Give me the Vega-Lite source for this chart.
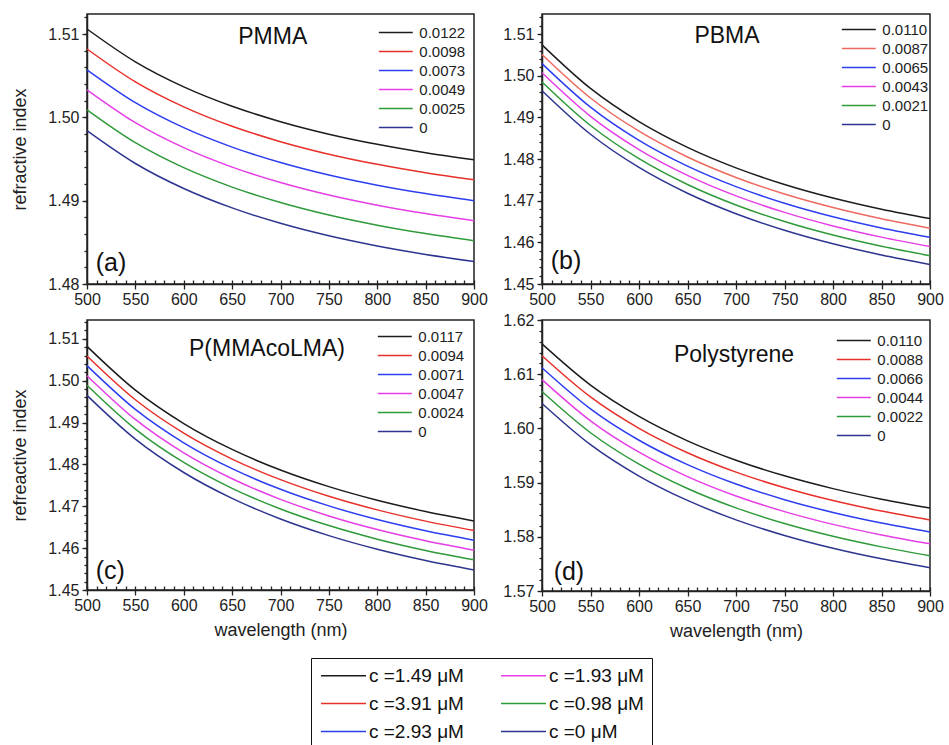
{
  "$schema": "https://vega.github.io/schema/vega-lite/v6.json",
  "padding": {"left": 11, "top": 13, "right": 0, "bottom": 0},
  "background": "white",
  "config": {
    "font": "Liberation Sans",
    "view": {"stroke": "#222", "strokeWidth": 1.5},
    "axis": {"domainColor": "#222", "domainWidth": 1.5, "tickColor": "#222", "tickWidth": 1.3, "labelColor": "#222", "labelFontSize": 16, "titleFontSize": 18, "titleFontWeight": "normal", "titleColor": "#222", "grid": false, "labelFlush": false, "labelOverlap": false},
    "legend": {"titleFontWeight": "normal"}
  },
  "datasets": {
    "a": [
      {"k":"0.0122","w":500,"n":1.5106},{"k":"0.0122","w":550,"n":1.50666},{"k":"0.0122","w":600,"n":1.50366},{"k":"0.0122","w":650,"n":1.50133},{"k":"0.0122","w":700,"n":1.49948},{"k":"0.0122","w":750,"n":1.49798},{"k":"0.0122","w":800,"n":1.49676},{"k":"0.0122","w":850,"n":1.49575},{"k":"0.0122","w":900,"n":1.4949},
      {"k":"0.0098","w":500,"n":1.5082},{"k":"0.0098","w":550,"n":1.50426},{"k":"0.0098","w":600,"n":1.50126},{"k":"0.0098","w":650,"n":1.49893},{"k":"0.0098","w":700,"n":1.49708},{"k":"0.0098","w":750,"n":1.49558},{"k":"0.0098","w":800,"n":1.49436},{"k":"0.0098","w":850,"n":1.49335},{"k":"0.0098","w":900,"n":1.4925},
      {"k":"0.0073","w":500,"n":1.5057},{"k":"0.0073","w":550,"n":1.50176},{"k":"0.0073","w":600,"n":1.49876},{"k":"0.0073","w":650,"n":1.49643},{"k":"0.0073","w":700,"n":1.49458},{"k":"0.0073","w":750,"n":1.49308},{"k":"0.0073","w":800,"n":1.49186},{"k":"0.0073","w":850,"n":1.49085},{"k":"0.0073","w":900,"n":1.49},
      {"k":"0.0049","w":500,"n":1.5033},{"k":"0.0049","w":550,"n":1.49936},{"k":"0.0049","w":600,"n":1.49636},{"k":"0.0049","w":650,"n":1.49403},{"k":"0.0049","w":700,"n":1.49218},{"k":"0.0049","w":750,"n":1.49068},{"k":"0.0049","w":800,"n":1.48946},{"k":"0.0049","w":850,"n":1.48845},{"k":"0.0049","w":900,"n":1.4876},
      {"k":"0.0025","w":500,"n":1.5009},{"k":"0.0025","w":550,"n":1.49696},{"k":"0.0025","w":600,"n":1.49396},{"k":"0.0025","w":650,"n":1.49163},{"k":"0.0025","w":700,"n":1.48978},{"k":"0.0025","w":750,"n":1.48828},{"k":"0.0025","w":800,"n":1.48706},{"k":"0.0025","w":850,"n":1.48605},{"k":"0.0025","w":900,"n":1.4852},
      {"k":"0","w":500,"n":1.4984},{"k":"0","w":550,"n":1.49446},{"k":"0","w":600,"n":1.49146},{"k":"0","w":650,"n":1.48913},{"k":"0","w":700,"n":1.48728},{"k":"0","w":750,"n":1.48578},{"k":"0","w":800,"n":1.48456},{"k":"0","w":850,"n":1.48355},{"k":"0","w":900,"n":1.4827}
    ],
    "b": [
      {"k":"0.0110","w":500,"n":1.5074},{"k":"0.0110","w":550,"n":1.49694},{"k":"0.0110","w":600,"n":1.48897},{"k":"0.0110","w":650,"n":1.48278},{"k":"0.0110","w":700,"n":1.47786},{"k":"0.0110","w":750,"n":1.47389},{"k":"0.0110","w":800,"n":1.47064},{"k":"0.0110","w":850,"n":1.46795},{"k":"0.0110","w":900,"n":1.4657},
      {"k":"0.0087","w":500,"n":1.5051},{"k":"0.0087","w":550,"n":1.49464},{"k":"0.0087","w":600,"n":1.48667},{"k":"0.0087","w":650,"n":1.48048},{"k":"0.0087","w":700,"n":1.47556},{"k":"0.0087","w":750,"n":1.47159},{"k":"0.0087","w":800,"n":1.46834},{"k":"0.0087","w":850,"n":1.46565},{"k":"0.0087","w":900,"n":1.4634},
      {"k":"0.0065","w":500,"n":1.5029},{"k":"0.0065","w":550,"n":1.49244},{"k":"0.0065","w":600,"n":1.48447},{"k":"0.0065","w":650,"n":1.47828},{"k":"0.0065","w":700,"n":1.47336},{"k":"0.0065","w":750,"n":1.46939},{"k":"0.0065","w":800,"n":1.46614},{"k":"0.0065","w":850,"n":1.46345},{"k":"0.0065","w":900,"n":1.4612},
      {"k":"0.0043","w":500,"n":1.5007},{"k":"0.0043","w":550,"n":1.49024},{"k":"0.0043","w":600,"n":1.48227},{"k":"0.0043","w":650,"n":1.47608},{"k":"0.0043","w":700,"n":1.47116},{"k":"0.0043","w":750,"n":1.46719},{"k":"0.0043","w":800,"n":1.46394},{"k":"0.0043","w":850,"n":1.46125},{"k":"0.0043","w":900,"n":1.459},
      {"k":"0.0021","w":500,"n":1.4985},{"k":"0.0021","w":550,"n":1.48804},{"k":"0.0021","w":600,"n":1.48007},{"k":"0.0021","w":650,"n":1.47388},{"k":"0.0021","w":700,"n":1.46896},{"k":"0.0021","w":750,"n":1.46499},{"k":"0.0021","w":800,"n":1.46174},{"k":"0.0021","w":850,"n":1.45905},{"k":"0.0021","w":900,"n":1.4568},
      {"k":"0","w":500,"n":1.4964},{"k":"0","w":550,"n":1.48594},{"k":"0","w":600,"n":1.47797},{"k":"0","w":650,"n":1.47178},{"k":"0","w":700,"n":1.46686},{"k":"0","w":750,"n":1.46289},{"k":"0","w":800,"n":1.45964},{"k":"0","w":850,"n":1.45695},{"k":"0","w":900,"n":1.4547}
    ],
    "c": [
      {"k":"0.0117","w":500,"n":1.5082},{"k":"0.0117","w":550,"n":1.49774},{"k":"0.0117","w":600,"n":1.48977},{"k":"0.0117","w":650,"n":1.48358},{"k":"0.0117","w":700,"n":1.47866},{"k":"0.0117","w":750,"n":1.47469},{"k":"0.0117","w":800,"n":1.47144},{"k":"0.0117","w":850,"n":1.46875},{"k":"0.0117","w":900,"n":1.4665},
      {"k":"0.0094","w":500,"n":1.5059},{"k":"0.0094","w":550,"n":1.49544},{"k":"0.0094","w":600,"n":1.48747},{"k":"0.0094","w":650,"n":1.48128},{"k":"0.0094","w":700,"n":1.47636},{"k":"0.0094","w":750,"n":1.47239},{"k":"0.0094","w":800,"n":1.46914},{"k":"0.0094","w":850,"n":1.46645},{"k":"0.0094","w":900,"n":1.4642},
      {"k":"0.0071","w":500,"n":1.5036},{"k":"0.0071","w":550,"n":1.49314},{"k":"0.0071","w":600,"n":1.48517},{"k":"0.0071","w":650,"n":1.47898},{"k":"0.0071","w":700,"n":1.47406},{"k":"0.0071","w":750,"n":1.47009},{"k":"0.0071","w":800,"n":1.46684},{"k":"0.0071","w":850,"n":1.46415},{"k":"0.0071","w":900,"n":1.4619},
      {"k":"0.0047","w":500,"n":1.5012},{"k":"0.0047","w":550,"n":1.49074},{"k":"0.0047","w":600,"n":1.48277},{"k":"0.0047","w":650,"n":1.47658},{"k":"0.0047","w":700,"n":1.47166},{"k":"0.0047","w":750,"n":1.46769},{"k":"0.0047","w":800,"n":1.46444},{"k":"0.0047","w":850,"n":1.46175},{"k":"0.0047","w":900,"n":1.4595},
      {"k":"0.0024","w":500,"n":1.4989},{"k":"0.0024","w":550,"n":1.48844},{"k":"0.0024","w":600,"n":1.48047},{"k":"0.0024","w":650,"n":1.47428},{"k":"0.0024","w":700,"n":1.46936},{"k":"0.0024","w":750,"n":1.46539},{"k":"0.0024","w":800,"n":1.46214},{"k":"0.0024","w":850,"n":1.45945},{"k":"0.0024","w":900,"n":1.4572},
      {"k":"0","w":500,"n":1.4965},{"k":"0","w":550,"n":1.48604},{"k":"0","w":600,"n":1.47807},{"k":"0","w":650,"n":1.47188},{"k":"0","w":700,"n":1.46696},{"k":"0","w":750,"n":1.46299},{"k":"0","w":800,"n":1.45974},{"k":"0","w":850,"n":1.45705},{"k":"0","w":900,"n":1.4548}
    ],
    "d": [
      {"k":"0.0110","w":500,"n":1.6156},{"k":"0.0110","w":550,"n":1.608},{"k":"0.0110","w":600,"n":1.60221},{"k":"0.0110","w":650,"n":1.59771},{"k":"0.0110","w":700,"n":1.59413},{"k":"0.0110","w":750,"n":1.59125},{"k":"0.0110","w":800,"n":1.58889},{"k":"0.0110","w":850,"n":1.58694},{"k":"0.0110","w":900,"n":1.5853},
      {"k":"0.0088","w":500,"n":1.6134},{"k":"0.0088","w":550,"n":1.6058},{"k":"0.0088","w":600,"n":1.60001},{"k":"0.0088","w":650,"n":1.59551},{"k":"0.0088","w":700,"n":1.59193},{"k":"0.0088","w":750,"n":1.58905},{"k":"0.0088","w":800,"n":1.58669},{"k":"0.0088","w":850,"n":1.58474},{"k":"0.0088","w":900,"n":1.5831},
      {"k":"0.0066","w":500,"n":1.6112},{"k":"0.0066","w":550,"n":1.6036},{"k":"0.0066","w":600,"n":1.59781},{"k":"0.0066","w":650,"n":1.59331},{"k":"0.0066","w":700,"n":1.58973},{"k":"0.0066","w":750,"n":1.58685},{"k":"0.0066","w":800,"n":1.58449},{"k":"0.0066","w":850,"n":1.58254},{"k":"0.0066","w":900,"n":1.5809},
      {"k":"0.0044","w":500,"n":1.609},{"k":"0.0044","w":550,"n":1.6014},{"k":"0.0044","w":600,"n":1.59561},{"k":"0.0044","w":650,"n":1.59111},{"k":"0.0044","w":700,"n":1.58753},{"k":"0.0044","w":750,"n":1.58465},{"k":"0.0044","w":800,"n":1.58229},{"k":"0.0044","w":850,"n":1.58034},{"k":"0.0044","w":900,"n":1.5787},
      {"k":"0.0022","w":500,"n":1.6068},{"k":"0.0022","w":550,"n":1.5992},{"k":"0.0022","w":600,"n":1.59341},{"k":"0.0022","w":650,"n":1.58891},{"k":"0.0022","w":700,"n":1.58533},{"k":"0.0022","w":750,"n":1.58245},{"k":"0.0022","w":800,"n":1.58009},{"k":"0.0022","w":850,"n":1.57814},{"k":"0.0022","w":900,"n":1.5765},
      {"k":"0","w":500,"n":1.6046},{"k":"0","w":550,"n":1.597},{"k":"0","w":600,"n":1.59121},{"k":"0","w":650,"n":1.58671},{"k":"0","w":700,"n":1.58313},{"k":"0","w":750,"n":1.58025},{"k":"0","w":800,"n":1.57789},{"k":"0","w":850,"n":1.57594},{"k":"0","w":900,"n":1.5743}
    ]
  },
  "columns": 2,
  "bounds": "flush",
  "spacing": {"row": 36, "column": 68},
  "resolve": {"scale": {"color": "independent"}, "legend": {"color": "independent"}},
  "concat": [
    {
      "width": 387, "height": 270,
      "data": {"name": "a"},
      "resolve": {"axis": {"x": "independent", "y": "independent"}},
      "layer": [
        {
          "mark": {"type": "line", "strokeWidth": 1.5, "interpolate": "monotone"},
          "encoding": {
            "x": {"field": "w", "type": "quantitative", "scale": {"domain": [500, 900], "nice": false}, "axis": {"values": [500,550,600,650,700,750,800,850,900], "format": "d", "title": null, "tickSize": 5, "labelPadding": 2}},
            "y": {"field": "n", "type": "quantitative", "scale": {"domain": [1.48, 1.5124], "nice": false, "zero": false}, "axis": {"values": [1.48,1.49,1.5,1.51], "format": ".2f", "title": "refractive index", "tickSize": 5, "labelPadding": 3, "titlePadding": 18}},
            "color": {"field": "k", "type": "nominal", "scale": {"domain": ["0.0122","0.0098","0.0073","0.0049","0.0025","0"], "range": ["#1c1c1c","#e8302a","#2d3df0","#e63ee6","#2f9a3a","#2e3590"]}, "legend": {"orient": "none", "legendX": 290, "legendY": 11, "title": null, "symbolType": "M-3,0H3", "symbolSize": 128, "symbolOffset": 11.3, "symbolStrokeWidth": 1.5, "labelFontSize": 15, "labelColor": "#222", "labelOffset": 16, "rowPadding": 3, "padding": 0}}
          }
        },
        {
          "mark": {"type": "point", "opacity": 0},
          "encoding": {
            "x": {"field": "w", "type": "quantitative", "scale": {"domain": [500, 900], "nice": false}, "axis": {"orient": "bottom", "values": [500,510,520,530,540,550,560,570,580,590,600,610,620,630,640,650,660,670,680,690,700,710,720,730,740,750,760,770,780,790,800,810,820,830,840,850,860,870,880,890,900], "tickSize": -4, "labels": false, "domain": false, "title": null}},
            "y": {"field": "n", "type": "quantitative", "scale": {"domain": [1.48, 1.5124], "nice": false, "zero": false}, "axis": {"orient": "left", "values": [1.48,1.482,1.484,1.486,1.488,1.49,1.492,1.494,1.496,1.498,1.5,1.502,1.504,1.506,1.508,1.51,1.512], "tickSize": 3, "labels": false, "domain": false, "title": null}}
          }
        },
        {
          "data": {"values": [{"label": "PMMA"}]},
          "mark": {"type": "text", "fontSize": 23, "baseline": "alphabetic", "align": "center", "color": "#111"},
          "encoding": {"text": {"field": "label"}, "x": {"datum": 692, "type": "quantitative", "axis": null}, "y": {"datum": 1.5088, "type": "quantitative", "axis": null}}
        },
        {
          "data": {"values": [{"label": "(a)"}]},
          "mark": {"type": "text", "fontSize": 25, "baseline": "alphabetic", "align": "left", "color": "#111"},
          "encoding": {"text": {"field": "label"}, "x": {"datum": 509, "type": "quantitative", "axis": null}, "y": {"datum": 1.4816, "type": "quantitative", "axis": null}}
        }
      ]
    },
    {
      "width": 388, "height": 270,
      "data": {"name": "b"},
      "resolve": {"axis": {"x": "independent", "y": "independent"}},
      "layer": [
        {
          "mark": {"type": "line", "strokeWidth": 1.5, "interpolate": "monotone"},
          "encoding": {
            "x": {"field": "w", "type": "quantitative", "scale": {"domain": [500, 900], "nice": false}, "axis": {"values": [500,550,600,650,700,750,800,850,900], "format": "d", "title": null, "tickSize": 5, "labelPadding": 2}},
            "y": {"field": "n", "type": "quantitative", "scale": {"domain": [1.45, 1.5148], "nice": false, "zero": false}, "axis": {"values": [1.45,1.46,1.47,1.48,1.49,1.5,1.51], "format": ".2f", "title": null, "tickSize": 5, "labelPadding": 3}},
            "color": {"field": "k", "type": "nominal", "scale": {"domain": ["0.0110","0.0087","0.0065","0.0043","0.0021","0"], "range": ["#1c1c1c","#ee6a60","#2d3df0","#e63ee6","#2f9a3a","#2e3590"]}, "legend": {"orient": "none", "legendX": 298, "legendY": 8, "title": null, "symbolType": "M-3,0H3", "symbolSize": 128, "symbolOffset": 11.3, "symbolStrokeWidth": 1.5, "labelFontSize": 15, "labelColor": "#222", "labelOffset": 16, "rowPadding": 3, "padding": 0}}
          }
        },
        {
          "mark": {"type": "point", "opacity": 0},
          "encoding": {
            "x": {"field": "w", "type": "quantitative", "scale": {"domain": [500, 900], "nice": false}, "axis": {"orient": "bottom", "values": [500,510,520,530,540,550,560,570,580,590,600,610,620,630,640,650,660,670,680,690,700,710,720,730,740,750,760,770,780,790,800,810,820,830,840,850,860,870,880,890,900], "tickSize": -4, "labels": false, "domain": false, "title": null}},
            "y": {"field": "n", "type": "quantitative", "scale": {"domain": [1.45, 1.5148], "nice": false, "zero": false}, "axis": {"orient": "left", "values": [1.45,1.452,1.454,1.456,1.458,1.46,1.462,1.464,1.466,1.468,1.47,1.472,1.474,1.476,1.478,1.48,1.482,1.484,1.486,1.488,1.49,1.492,1.494,1.496,1.498,1.5,1.502,1.504,1.506,1.508,1.51,1.512,1.514], "tickSize": 3, "labels": false, "domain": false, "title": null}}
          }
        },
        {
          "data": {"values": [{"label": "PBMA"}]},
          "mark": {"type": "text", "fontSize": 23, "baseline": "alphabetic", "align": "center", "color": "#111"},
          "encoding": {"text": {"field": "label"}, "x": {"datum": 690.7, "type": "quantitative", "axis": null}, "y": {"datum": 1.5078, "type": "quantitative", "axis": null}}
        },
        {
          "data": {"values": [{"label": "(b)"}]},
          "mark": {"type": "text", "fontSize": 25, "baseline": "alphabetic", "align": "left", "color": "#111"},
          "encoding": {"text": {"field": "label"}, "x": {"datum": 509, "type": "quantitative", "axis": null}, "y": {"datum": 1.4536, "type": "quantitative", "axis": null}}
        }
      ]
    },
    {
      "width": 387, "height": 270,
      "data": {"name": "c"},
      "resolve": {"axis": {"x": "independent", "y": "independent"}, "scale": {"color": "independent"}, "legend": {"color": "independent"}},
      "layer": [
        {
          "mark": {"type": "line", "strokeWidth": 1.5, "interpolate": "monotone"},
          "encoding": {
            "x": {"field": "w", "type": "quantitative", "scale": {"domain": [500, 900], "nice": false}, "axis": {"values": [500,550,600,650,700,750,800,850,900], "format": "d", "title": "wavelength (nm)", "tickSize": 5, "labelPadding": 2, "titlePadding": 8}},
            "y": {"field": "n", "type": "quantitative", "scale": {"domain": [1.45, 1.5145], "nice": false, "zero": false}, "axis": {"values": [1.45,1.46,1.47,1.48,1.49,1.5,1.51], "format": ".2f", "title": "refreactive index", "tickSize": 5, "labelPadding": 3, "titlePadding": 18}},
            "color": {"field": "k", "type": "nominal", "scale": {"domain": ["0.0117","0.0094","0.0071","0.0047","0.0024","0"], "range": ["#1c1c1c","#e8302a","#2d3df0","#e63ee6","#2f9a3a","#2e3590"]}, "legend": {"orient": "none", "legendX": 289, "legendY": 9, "title": null, "symbolType": "M-3,0H3", "symbolSize": 128, "symbolOffset": 11.3, "symbolStrokeWidth": 1.5, "labelFontSize": 15, "labelColor": "#222", "labelOffset": 16, "rowPadding": 3, "padding": 0}}
          }
        },
        {
          "mark": {"type": "point", "opacity": 0},
          "encoding": {
            "x": {"field": "w", "type": "quantitative", "scale": {"domain": [500, 900], "nice": false}, "axis": {"orient": "bottom", "values": [500,510,520,530,540,550,560,570,580,590,600,610,620,630,640,650,660,670,680,690,700,710,720,730,740,750,760,770,780,790,800,810,820,830,840,850,860,870,880,890,900], "tickSize": -4, "labels": false, "domain": false, "title": null}},
            "y": {"field": "n", "type": "quantitative", "scale": {"domain": [1.45, 1.5145], "nice": false, "zero": false}, "axis": {"orient": "left", "values": [1.45,1.452,1.454,1.456,1.458,1.46,1.462,1.464,1.466,1.468,1.47,1.472,1.474,1.476,1.478,1.48,1.482,1.484,1.486,1.488,1.49,1.492,1.494,1.496,1.498,1.5,1.502,1.504,1.506,1.508,1.51,1.512,1.514], "tickSize": 3, "labels": false, "domain": false, "title": null}}
          }
        },
        {
          "data": {"values": [{"label": "P(MMAcoLMA)"}]},
          "mark": {"type": "text", "fontSize": 23, "baseline": "alphabetic", "align": "center", "color": "#111"},
          "encoding": {"text": {"field": "label"}, "x": {"datum": 686, "type": "quantitative", "axis": null}, "y": {"datum": 1.506, "type": "quantitative", "axis": null}}
        },
        {
          "data": {"values": [{"label": "(c)"}]},
          "mark": {"type": "text", "fontSize": 25, "baseline": "alphabetic", "align": "left", "color": "#111"},
          "encoding": {"text": {"field": "label"}, "x": {"datum": 509, "type": "quantitative", "axis": null}, "y": {"datum": 1.4527, "type": "quantitative", "axis": null}}
        },
        {
          "data": {"values": [{"c": "c =1.49 μM"}, {"c": "c =3.91 μM"}, {"c": "c =2.93 μM"}, {"c": "c =1.93 μM"}, {"c": "c =0.98 μM"}, {"c": "c =0 μM"}]},
          "mark": {"type": "point", "opacity": 0},
          "encoding": {
            "color": {"field": "c", "type": "nominal", "scale": {"domain": ["c =1.49 μM","c =3.91 μM","c =2.93 μM","c =1.93 μM","c =0.98 μM","c =0 μM"], "range": ["#1c1c1c","#e8302a","#2d3df0","#e63ee6","#2f9a3a","#2e3590"]}, "legend": {"orient": "none", "legendX": 224, "legendY": 338, "columns": 2, "title": null, "symbolType": "M-3,0H3", "symbolSize": 225, "symbolOffset": 15, "symbolStrokeWidth": 1.5, "symbolOpacity": 1, "labelFontSize": 19, "labelColor": "#111", "labelOffset": 16, "rowPadding": 8, "columnPadding": 34, "padding": 8, "strokeColor": "#111", "labelLimit": 300, "encoding": {"legend": {"update": {"strokeWidth": {"value": 2}}}}}}
          }
        }
      ]
    },
    {
      "width": 388, "height": 271,
      "data": {"name": "d"},
      "resolve": {"axis": {"x": "independent", "y": "independent"}},
      "layer": [
        {
          "mark": {"type": "line", "strokeWidth": 1.5, "interpolate": "monotone"},
          "encoding": {
            "x": {"field": "w", "type": "quantitative", "scale": {"domain": [500, 900], "nice": false}, "axis": {"values": [500,550,600,650,700,750,800,850,900], "format": "d", "title": "wavelength (nm)", "tickSize": 5, "labelPadding": 2, "titlePadding": 8}},
            "y": {"field": "n", "type": "quantitative", "scale": {"domain": [1.57, 1.62], "nice": false, "zero": false}, "axis": {"values": [1.57,1.58,1.59,1.6,1.61,1.62], "format": ".2f", "title": null, "tickSize": 5, "labelPadding": 3}},
            "color": {"field": "k", "type": "nominal", "scale": {"domain": ["0.0110","0.0088","0.0066","0.0044","0.0022","0"], "range": ["#1c1c1c","#e8302a","#2d3df0","#e63ee6","#2f9a3a","#2e3590"]}, "legend": {"orient": "none", "legendX": 293, "legendY": 13, "title": null, "symbolType": "M-3,0H3", "symbolSize": 128, "symbolOffset": 11.3, "symbolStrokeWidth": 1.5, "labelFontSize": 15, "labelColor": "#222", "labelOffset": 16, "rowPadding": 3, "padding": 0}}
          }
        },
        {
          "mark": {"type": "point", "opacity": 0},
          "encoding": {
            "x": {"field": "w", "type": "quantitative", "scale": {"domain": [500, 900], "nice": false}, "axis": {"orient": "bottom", "values": [500,510,520,530,540,550,560,570,580,590,600,610,620,630,640,650,660,670,680,690,700,710,720,730,740,750,760,770,780,790,800,810,820,830,840,850,860,870,880,890,900], "tickSize": -4, "labels": false, "domain": false, "title": null}},
            "y": {"field": "n", "type": "quantitative", "scale": {"domain": [1.57, 1.62], "nice": false, "zero": false}, "axis": {"orient": "left", "values": [1.57,1.572,1.574,1.576,1.578,1.58,1.582,1.584,1.586,1.588,1.59,1.592,1.594,1.596,1.598,1.6,1.602,1.604,1.606,1.608,1.61,1.612,1.614,1.616,1.618,1.62], "tickSize": 3, "labels": false, "domain": false, "title": null}}
          }
        },
        {
          "data": {"values": [{"label": "Polystyrene"}]},
          "mark": {"type": "text", "fontSize": 23, "baseline": "alphabetic", "align": "center", "color": "#111"},
          "encoding": {"text": {"field": "label"}, "x": {"datum": 698, "type": "quantitative", "axis": null}, "y": {"datum": 1.6122, "type": "quantitative", "axis": null}}
        },
        {
          "data": {"values": [{"label": "(d)"}]},
          "mark": {"type": "text", "fontSize": 25, "baseline": "alphabetic", "align": "left", "color": "#111"},
          "encoding": {"text": {"field": "label"}, "x": {"datum": 512, "type": "quantitative", "axis": null}, "y": {"datum": 1.572, "type": "quantitative", "axis": null}}
        }
      ]
    }
  ]
}
